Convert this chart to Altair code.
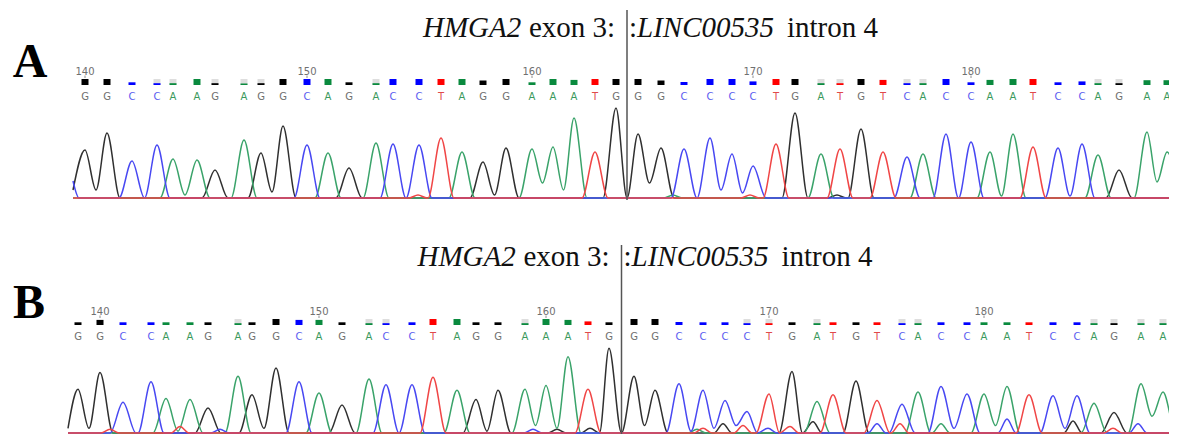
import altair as alt
import pandas as pd

# ---------------- data ----------------
CHANNELS = ["G", "A", "C", "T"]

# Panel A
BASES_A = list("GGCCAAGAGGCAGACCTAGGAAATGGGCCCCTGATGTCACCAATCCAGAA")
FIRST_POS_A = 140
PLOC_A = [85, 107, 132, 157, 173, 197, 215, 244, 261, 283,
          307, 328, 349, 376, 393, 419, 441, 462, 483, 506,
          532, 553, 574, 595, 616, 638, 661, 684, 710, 732,
          753, 776, 795, 821, 840, 861, 883, 907, 923, 946,
          971, 990, 1013, 1033, 1058, 1082, 1098, 1119, 1147, 1167]
HEIGHT_A = [48, 65, 37, 53, 39, 38, 28, 58, 45, 72,
            53, 45, 30, 55, 54, 53, 60, 46, 36, 50,
            49, 51, 80, 46, 90, 64, 50, 49, 60, 44,
            32, 54, 85, 44, 49, 69, 46, 41, 44, 64,
            56, 46, 64, 51, 50, 54, 43, 28, 66, 46]
QUAL_A = [1.0, 1.0, 0.45, 0.3, 0.3, 1.0, 0.3, 0.25, 0.3, 1.0,
          1.0, 1.0, 0.45, 0.3, 1.0, 1.0, 1.0, 1.0, 0.75, 1.0,
          0.45, 1.0, 0.85, 1.0, 1.0, 1.0, 0.75, 0.5, 1.0, 1.0,
          0.6, 1.0, 1.0, 0.3, 0.3, 1.0, 0.85, 0.3, 0.3, 1.0,
          0.45, 0.85, 1.0, 1.0, 0.45, 0.6, 0.3, 0.3, 0.8, 0.8]
TROUGH_A = {140: 8, 142: 0, 144: 3, 148: 6, 154: 0, 158: 3, 160: 15, 161: 8,
            164: 0, 165: 15, 167: 0, 168: 8, 169: 5, 181: 2, 184: 2, 188: 16}
MINOR_A = [("T", 418, 3), ("A", 673, 3), ("T", 750, 3), ("G", 837, 3)]
EDGE_A = {"C": 17, "G": 8}
TRACE_START_A = 73
JUNCTION_A = 164

# Panel B
BASES_B = list("GGCCAAGAGGCAGACCTAGGAAATGGGCCCCTGATGTCACCAATCCAGAA")
FIRST_POS_B = 139
PLOC_B = [78, 100, 123, 151, 166, 190, 208, 238, 252, 276,
          299, 319, 342, 369, 386, 412, 433, 457, 476, 498,
          525, 546, 568, 588, 609, 634, 655, 679, 703, 725,
          747, 769, 792, 817, 833, 856, 877, 902, 918, 941,
          967, 984, 1007, 1029, 1053, 1077, 1094, 1114, 1141, 1163]
HEIGHT_B = [47, 65, 33, 55, 37, 36, 27, 61, 41, 70,
            55, 43, 30, 58, 52, 52, 60, 46, 36, 46,
            47, 51, 82, 47, 91, 61, 46, 53, 46, 35,
            23, 42, 66, 34, 41, 56, 35, 31, 44, 50,
            42, 42, 50, 41, 40, 40, 32, 22, 53, 44]
QUAL_B = [0.45, 0.85, 0.45, 0.45, 0.45, 0.45, 0.45, 0.3, 0.45, 1.0,
          0.85, 0.85, 0.45, 0.3, 0.3, 0.45, 1.0, 1.0, 0.45, 0.45,
          0.3, 1.0, 0.85, 0.6, 0.45, 1.0, 1.0, 0.5, 0.45, 0.45,
          0.3, 0.3, 0.45, 0.3, 0.45, 0.45, 0.45, 0.3, 0.3, 0.45,
          0.45, 0.45, 0.45, 0.45, 0.45, 0.45, 0.3, 0.3, 0.3, 0.3]
TROUGH_B = {139: 5, 141: 0, 143: 2, 147: 5, 153: 0, 157: 2, 159: 8, 160: 5,
            163: 0, 164: 8, 166: 2, 167: 5, 168: 8, 178: 5, 180: 8, 183: 5, 187: 18}
MINOR_B = [("T", 110, 4), ("T", 180, 7), ("C", 220, 4), ("C", 533, 4),
           ("G", 557, 4), ("G", 590, 5), ("A", 697, 4), ("T", 703, 5),
           ("G", 723, 10), ("T", 743, 8), ("C", 768, 5), ("T", 790, 7),
           ("G", 813, 12), ("C", 877, 10), ("T", 900, 10), ("A", 941, 10),
           ("C", 1007, 15), ("G", 1073, 13), ("T", 1113, 5), ("C", 1138, 10)]
EDGE_B = {"G": 5}
TRACE_START_B = 68
JUNCTION_B = 163

TRACE_END = 1180
TITLE_PIECES = [("HMGA2", "italic", -204), ("exon 3:", "normal", -98),
                (":", "normal", 2), ("LINC00535", "italic", 10),
                ("intron 4", "normal", 160)]

# ---------------- styles ----------------
TRACE_COL = {"G": "#303030", "A": "#3aa36a", "C": "#4848f2", "T": "#f04646"}
SQ_COL = {"G": "#000000", "A": "#0a8a3e", "C": "#0000ff", "T": "#ff0000"}
LET_COL = {"G": "#707070", "A": "#3a9a5c", "C": "#5c5cf0", "T": "#e04a4a"}
X_DOMAIN = [8, 1169]
HALF_MAIN = 13.0
HALF_MINOR = 9.0
W, H = 1161, 426

LAYOUT_A = dict(title_y=29, letter=("A", 22, 69), num_y=64, tick=(67.5, 70),
                sq=(77, 71), let_y=88.5, trace=(190, 90), vline=(2, 192))
LAYOUT_B = dict(title_y=258, letter=("B", 21, 310), num_y=304, tick=(307.5, 310),
                sq=(317, 311), let_y=329, trace=(425, 332), vline=(237, 426))


def trace_table(bases, first, ploc, heights, troughs, minor, edge, x0, x1):
    rows = []
    for ch in CHANNELS:
        peaks = [(x, h, first + k) for k, (b, x, h) in enumerate(zip(bases, ploc, heights)) if b == ch]
        peaks += [(x, h, None) for c, x, h in minor if c == ch]
        peaks.sort(key=lambda p: p[0])
        e = edge.get(ch, 0)
        pts = [(x0, e)]
        for j, (x, h, pos) in enumerate(peaks):
            w = HALF_MAIN if pos is not None else HALF_MINOR
            if j == 0:
                left = x - w
                if e > 0 and left > x0 + 6:
                    pts.append((x0 + 6, 0))
                if left > pts[-1][0]:
                    pts.append((left, 0))
            pts.append((x, h))
            if j + 1 < len(peaks):
                nx, nh, npos = peaks[j + 1]
                nw = HALF_MAIN if npos is not None else HALF_MINOR
                if x + w < nx - nw:
                    pts += [(x + w, 0), (nx - nw, 0)]
                else:
                    t = troughs.get(pos, 0) if (pos is not None and npos == pos + 1) else 0
                    pts.append(((x + nx) / 2, t))
            else:
                pts.append((x + w, 0))
        pts.append((x1, 0))
        for i, (x, y) in enumerate(pts):
            rows.append({"base": ch, "scan": x, "signal": y, "order": i})
    return pd.DataFrame(rows)


def base_table(bases, first, ploc, qual):
    return pd.DataFrame({"base": bases, "pos": list(range(first, first + len(bases))),
                         "scan": ploc, "q": qual})


def cscale(cols):
    return alt.Scale(domain=CHANNELS, range=[cols[c] for c in CHANNELS])


def panel(bt, tt, junction, L):
    X = alt.X("scan:Q", scale=alt.Scale(domain=X_DOMAIN), axis=None)
    layers = []
    base = alt.Chart(bt)

    # traces
    layers.append(
        alt.Chart(tt).mark_line(interpolate="monotone", strokeWidth=1.5, clip=True).encode(
            x=X,
            y=alt.Y("signal:Q", scale=alt.Scale(domain=[0, 100], range=list(L["trace"])), axis=None),
            color=alt.Color("base:N", scale=cscale(TRACE_COL), legend=None),
            detail="base:N",
            order="order:Q",
        )
    )

    # quality boxes
    sq_scale = alt.Scale(domain=[0, 1], range=list(L["sq"]))
    layers.append(
        base.transform_filter("datum.q < 0.4")
        .transform_calculate(full="1", sx0="datum.scan - 3.5", sx1="datum.scan + 3.5")
        .mark_rect(color="#dedede")
        .encode(x=alt.X("sx0:Q", scale=alt.Scale(domain=X_DOMAIN), axis=None), x2="sx1:Q",
                y=alt.Y("full:Q", scale=sq_scale, axis=None), y2=alt.datum(0))
    )
    layers.append(
        base.transform_calculate(sx0="datum.scan - 3.5", sx1="datum.scan + 3.5")
        .mark_rect()
        .encode(x=alt.X("sx0:Q", scale=alt.Scale(domain=X_DOMAIN), axis=None), x2="sx1:Q",
                y=alt.Y("q:Q", scale=sq_scale, axis=None), y2=alt.datum(0),
                color=alt.Color("base:N", scale=cscale(SQ_COL), legend=None))
    )

    # base letters
    layers.append(
        base.mark_text(font="DejaVu Sans", fontSize=10, baseline="middle").encode(
            x=X, y=alt.value(L["let_y"]), text="base:N",
            color=alt.Color("base:N", scale=cscale(LET_COL), legend=None))
    )

    # position numbers and ticks
    numbered = base.transform_filter("datum.pos % 10 == 0")
    layers.append(
        numbered.mark_text(font="DejaVu Sans", fontSize=10, baseline="middle", color="#707070").encode(
            x=X, y=alt.value(L["num_y"]), text="pos:Q")
    )
    layers.append(
        numbered.mark_rule(color="#909090", strokeWidth=1).encode(
            x=X, y=alt.value(L["tick"][0]), y2=alt.value(L["tick"][1]))
    )

    # junction line
    jdf = pd.DataFrame({"scan": [junction]})
    layers.append(
        alt.Chart(jdf).mark_rule(color="#555555", strokeWidth=1.5).encode(
            x=X, y=alt.value(L["vline"][0]), y2=alt.value(L["vline"][1]))
    )

    # title pieces anchored at the junction
    for text, style, off in TITLE_PIECES:
        tdf = pd.DataFrame({"scan": [junction], "t": [text]})
        layers.append(
            alt.Chart(tdf).mark_text(font="Liberation Serif", fontSize=29, fontStyle=style,
                                     align="left", baseline="alphabetic", dx=off, color="#111111")
            .encode(x=X, y=alt.value(L["title_y"]), text="t:N")
        )

    # panel letter
    lt, lx, ly = L["letter"]
    layers.append(
        alt.Chart(pd.DataFrame({"t": [lt]})).mark_text(
            font="Liberation Serif", fontSize=48, fontWeight="bold", align="center",
            baseline="alphabetic", color="#000000")
        .encode(text="t:N", x=alt.value(lx), y=alt.value(ly))
    )
    return layers


bt_a = base_table(BASES_A, FIRST_POS_A, PLOC_A, QUAL_A)
bt_b = base_table(BASES_B, FIRST_POS_B, PLOC_B, QUAL_B)
tt_a = trace_table(BASES_A, FIRST_POS_A, PLOC_A, HEIGHT_A, TROUGH_A, MINOR_A, EDGE_A, TRACE_START_A, TRACE_END)
tt_b = trace_table(BASES_B, FIRST_POS_B, PLOC_B, HEIGHT_B, TROUGH_B, MINOR_B, EDGE_B, TRACE_START_B, TRACE_END)

ja = JUNCTION_A - FIRST_POS_A
jb = JUNCTION_B - FIRST_POS_B
junction_a = (PLOC_A[ja] + PLOC_A[ja + 1]) / 2
junction_b = (PLOC_B[jb] + PLOC_B[jb + 1]) / 2

layers = panel(bt_a, tt_a, junction_a, LAYOUT_A) + panel(bt_b, tt_b, junction_b, LAYOUT_B)

chart = (
    alt.layer(*layers)
    .resolve_scale(y="independent", color="independent")
    .properties(width=W, height=H, autosize=alt.AutoSizeParams(type="none"), padding=0,
                background="white")
    .configure_view(stroke=None)
)

chart.save("out.html", embed_options={"renderer": "svg", "actions": False})
